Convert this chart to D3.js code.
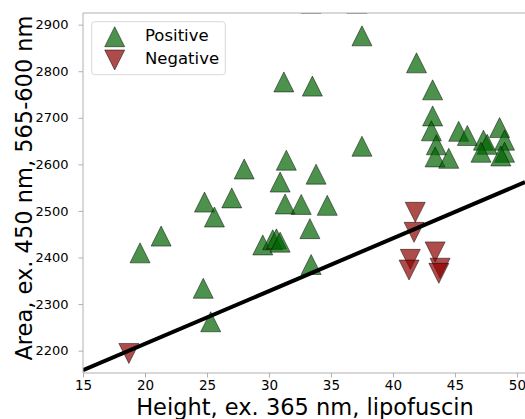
<!DOCTYPE html>
<html>
<head>
<meta charset="utf-8">
<script src="https://cdn.jsdelivr.net/npm/d3@7"></script>
<style>
  html, body { margin: 0; padding: 0; background: #fff; }
  svg { display: block; font-family: "DejaVu Sans", sans-serif; }
</style>
</head>
<body>
<svg id="chart" width="525" height="419"></svg>
<script>
// ---- data ----
const posX = [19.6, 21.3, 24.8, 25.6, 27.0, 28.0, 31.4, 30.9, 31.3, 32.6, 34.7, 33.3, 33.4, 33.8, 31.2, 33.5, 37.5, 37.5, 24.7, 25.3,
              29.5, 30.3, 30.6, 30.9,
              41.9, 43.2, 43.2, 43.1, 43.5, 43.4, 44.5, 45.3, 46.0, 47.3, 47.6, 47.1, 48.6, 49.0, 49.0, 48.7,
              33.4, 37.1];
const posY = [2410, 2446, 2519, 2487, 2528, 2590, 2609, 2562, 2515, 2514, 2512, 2462, 2385, 2579, 2777, 2768, 2639, 2876, 2334, 2262,
              2427, 2438, 2440, 2433,
              2818, 2760, 2704, 2672, 2642, 2616, 2613, 2671, 2662, 2652, 2643, 2626, 2679, 2652, 2626, 2618,
              2946, 2946];
const negX = [41.8, 41.7, 41.4, 41.3, 43.4, 43.8, 43.7, 18.7];
const negY = [2497, 2454, 2396, 2373, 2412, 2377, 2366, 2194];
const fitIntercept = 1988;
const fitSlope = 11.33;
const xTicks = [15, 20, 25, 30, 35, 40, 45, 50];
const yTicks = [2200, 2300, 2400, 2500, 2600, 2700, 2800, 2900];
const xDomain = [15, 50.65];
const yDomain = [2152, 2925];
const seriesNames = ["Positive", "Negative"];
const xLabel = "Height, ex. 365 nm, lipofuscin";
const yLabel = "Area, ex. 450 nm, 565-600 nm";

// ---- layout ----
const L = 83, R = 525, T = 13, B = 373;
const svg = d3.select("#chart");
const x = d3.scaleLinear().domain(xDomain).range([L, R]);
const y = d3.scaleLinear().domain(yDomain).range([B, T]);

svg.append("defs").append("clipPath").attr("id", "clip")
  .append("rect").attr("x", L).attr("y", T).attr("width", R - L + 10).attr("height", B - T);

const H = 10; // marker half size
function tri(up) {
  const p = d3.path();
  if (up) { p.moveTo(0, -H); p.lineTo(-H, H); p.lineTo(H, H); }
  else { p.moveTo(0, H); p.lineTo(-H, -H); p.lineTo(H, -H); }
  p.closePath();
  return p.toString();
}

const plot = svg.append("g").attr("clip-path", "url(#clip)");

const pos = posX.map((v, i) => ({x: v, y: posY[i]}));
const neg = negX.map((v, i) => ({x: v, y: negY[i]}));

plot.selectAll("path.pos").data(pos).join("path").attr("class", "pos")
  .attr("d", tri(true))
  .attr("transform", d => `translate(${x(d.x)},${y(d.y)})`)
  .attr("fill", "#006400").attr("fill-opacity", 0.7)
  .attr("stroke", "#000").attr("stroke-opacity", 0.6).attr("stroke-width", 0.8);

plot.selectAll("path.neg").data(neg).join("path").attr("class", "neg")
  .attr("d", tri(false))
  .attr("transform", d => `translate(${x(d.x)},${y(d.y)})`)
  .attr("fill", "#8b0000").attr("fill-opacity", 0.7)
  .attr("stroke", "#000").attr("stroke-opacity", 0.6).attr("stroke-width", 0.8);

// fit line
const fit = xDomain.map(v => ({x: v, y: fitIntercept + fitSlope * v}));
plot.append("path").datum(fit)
  .attr("d", d3.line().x(d => x(d.x)).y(d => y(d.y)))
  .attr("stroke", "#000").attr("stroke-width", 4).attr("fill", "none");

// spines
const spineColor = "#b0b0b0";
svg.append("line").attr("x1", L).attr("x2", R).attr("y1", T).attr("y2", T).attr("stroke", spineColor).attr("stroke-width", 1);
svg.append("line").attr("x1", L).attr("x2", R).attr("y1", B).attr("y2", B).attr("stroke", spineColor).attr("stroke-width", 1);
svg.append("line").attr("x1", L).attr("x2", L).attr("y1", T).attr("y2", B).attr("stroke", spineColor).attr("stroke-width", 1);

// axes
const xAxis = d3.axisBottom(x).tickValues(xTicks).tickFormat(d3.format("d")).tickSize(4.5).tickPadding(3);
const gx = svg.append("g").attr("transform", `translate(0,${B})`).call(xAxis);
gx.select(".domain").remove();
gx.selectAll(".tick line").attr("stroke", spineColor);
gx.selectAll(".tick text").attr("fill", "#000").style("font-size", "13.5px").style("font-family", "DejaVu Sans");

const yAxis = d3.axisLeft(y).tickValues(yTicks).tickFormat(d3.format("d")).tickSize(4.5).tickPadding(10);
const gy = svg.append("g").attr("transform", `translate(${L},0)`).call(yAxis);
gy.select(".domain").remove();
gy.selectAll(".tick line").attr("stroke", spineColor);
gy.selectAll(".tick text").attr("fill", "#000").style("font-size", "13px").style("font-family", "DejaVu Sans");

// axis labels
svg.append("text").attr("x", 305).attr("y", 414.5).attr("text-anchor", "middle")
  .style("font-size", "22.5px").text(xLabel);
svg.append("text").attr("transform", "translate(31.5,188) rotate(-90)").attr("text-anchor", "middle")
  .style("font-size", "22.5px").text(yLabel);

// legend
const lg = svg.append("g");
lg.append("rect").attr("x", 91.7).attr("y", 21.7).attr("width", 133.6).attr("height", 53)
  .attr("rx", 3).attr("fill", "#fff").attr("fill-opacity", 0.8).attr("stroke", "#d8d8d8").attr("stroke-width", 1);
const legendItems = [
  {name: seriesNames[0], up: true, fill: "#006400", my: 36.7, ty: 40.7},
  {name: seriesNames[1], up: false, fill: "#8b0000", my: 60, ty: 64}
];
legendItems.forEach(it => {
  lg.append("path").attr("d", tri(it.up)).attr("transform", `translate(114.7,${it.my})`)
    .attr("fill", it.fill).attr("fill-opacity", 0.7)
    .attr("stroke", "#000").attr("stroke-opacity", 0.6).attr("stroke-width", 0.8);
  lg.append("text").attr("x", 145).attr("y", it.ty).style("font-size", "16.5px").attr("fill", "#000").text(it.name);
});
</script>
</body>
</html>
